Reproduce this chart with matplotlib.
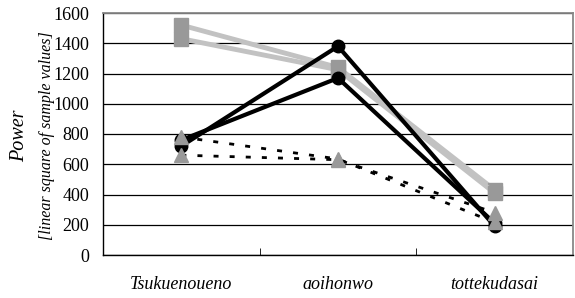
import matplotlib
matplotlib.use("Agg")
import matplotlib.pyplot as plt
import numpy as np

categories = ["Tsukuenoueno", "aoihonwo", "tottekudasai"]
square_a = [1520, 1240, 430]
square_b = [1430, 1225, 410]
circle_a = [720, 1380, 190]
circle_b = [760, 1170, 210]
tri_a = [780, 635, 215]
tri_b = [660, 630, 280]
yticks = [0, 200, 400, 600, 800, 1000, 1200, 1400, 1600]

plt.rcParams['font.family'] = ['Liberation Serif', 'DejaVu Serif']

fig = plt.figure(figsize=(5.75, 2.98), dpi=100)
ax = fig.add_axes([103/575, 1-255/298, 470/575, 242/298])
x = np.arange(len(categories))

for s in (square_a, square_b):
    ax.plot(x, s, color='#c2c2c2', lw=3.5, marker='s', markersize=9.5,
            markerfacecolor='#999999', markeredgecolor='#999999', zorder=3)
for s in (circle_a, circle_b):
    ax.plot(x, s, color='black', lw=3, marker='o', markersize=9,
            markerfacecolor='black', zorder=4)
for s in (tri_a, tri_b):
    ax.plot(x, s, color='black', lw=2, ls=(0, (1.8, 4)), marker='^', markersize=10.5,
            markerfacecolor='#999999', markeredgecolor='#999999', zorder=5)

ax.set_xlim(-0.5, 2.5)
ax.set_ylim(0, 1600)
ax.set_yticks(yticks)
ax.set_yticklabels([str(v) for v in yticks], fontsize=13)
ax.yaxis.grid(True, color='black', lw=0.9)
ax.set_axisbelow(True)
ax.tick_params(axis='y', length=0, pad=10)
ax.set_xticks(x)
ax.set_xticklabels(categories, fontsize=13, style='italic')
ax.tick_params(axis='x', length=0, pad=15)
ax.set_xticks([0.5, 1.5], minor=True)
ax.tick_params(axis='x', which='minor', direction='in', length=5, color='black')
for sp in ('top', 'right'):
    ax.spines[sp].set_color('#888888')
    ax.spines[sp].set_linewidth(1.3)
for sp in ('left', 'bottom'):
    ax.spines[sp].set_color('black')
    ax.spines[sp].set_linewidth(1.0)

fig.text(20/575, 1-136/298, "Power", rotation=90, style='italic', fontsize=14.5,
         ha='center', va='center')
fig.text(47/575, 1-136/298, "[linear square of sample values]", rotation=90,
         style='italic', fontsize=11.5, ha='center', va='center')

fig.savefig("out.png", dpi=100)
